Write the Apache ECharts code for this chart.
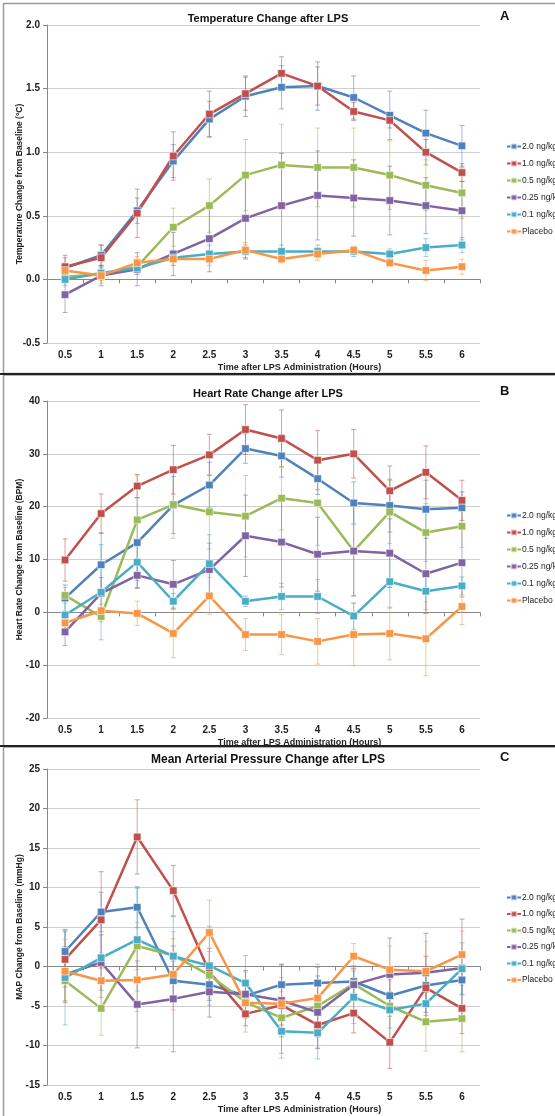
<!DOCTYPE html>
<html>
<head>
<meta charset="utf-8">
<script src="https://cdn.jsdelivr.net/npm/echarts@6/dist/echarts.min.js"></script>
<style>
html,body{margin:0;padding:0;background:#fff;}
#chart{width:555px;height:1116px;}
</style>
</head>
<body>
<div id="chart"></div>
<script>
const categories = ['0.5','1','1.5','2','2.5','3','3.5','4','4.5','5','5.5','6'];
const seriesNames = ['2.0 ng/kg','1.0 ng/kg','0.5 ng/kg','0.25 ng/kg','0.1 ng/kg','Placebo'];
const seriesColors = ['#4f81bd','#c0504d','#9bbb59','#8064a2','#4bacc6','#f79646'];

// Panel A: Temperature change (°C)
const temp20 = [0.09,0.19,0.54,0.93,1.26,1.44,1.51,1.52,1.43,1.29,1.15,1.05];
const temp20Err = [0.08,0.08,0.10,0.13,0.14,0.16,0.17,0.19,0.17,0.19,0.18,0.16];
const temp10 = [0.10,0.17,0.52,0.97,1.30,1.46,1.62,1.52,1.32,1.25,1.00,0.84];
const temp10Err = [0.09,0.10,0.19,0.19,0.18,0.13,0.13,0.15,0.07,0.06,0.10,0.07];
const temp05 = [0.02,0.04,0.10,0.41,0.58,0.82,0.90,0.88,0.88,0.82,0.74,0.68];
const temp05Err = [0.05,0.05,0.06,0.15,0.21,0.28,0.32,0.31,0.31,0.27,0.20,0.20];
const temp025 = [-0.12,0.03,0.08,0.20,0.32,0.48,0.58,0.66,0.64,0.62,0.58,0.54];
const temp025Err = [0.14,0.08,0.13,0.17,0.26,0.32,0.41,0.35,0.30,0.27,0.22,0.23];
const temp01 = [0.00,0.05,0.09,0.17,0.20,0.22,0.22,0.22,0.22,0.20,0.25,0.27];
const temp01Err = [0.05,0.05,0.05,0.06,0.07,0.05,0.05,0.05,0.04,0.04,0.07,0.06];
const tempPla = [0.07,0.03,0.13,0.16,0.16,0.23,0.16,0.20,0.23,0.13,0.07,0.10];
const tempPlaErr = [0.05,0.06,0.05,0.05,0.05,0.06,0.03,0.05,0.03,0.03,0.08,0.06];

// Panel B: Heart rate change (BPM)
const hr20 = [2.7,9.0,13.2,20.3,24.1,31.0,29.6,25.3,20.7,20.2,19.5,19.8];
const hr20Err = [2.5,6.0,8.5,5.4,4.3,2.8,4.0,3.0,4.0,5.0,5.5,3.0];
const hr10 = [9.9,18.7,23.9,27.0,29.8,34.6,32.9,28.8,30.0,23.0,26.5,21.2];
const hr10Err = [4.0,3.7,2.2,4.6,3.9,4.7,5.4,5.6,4.6,4.7,5.0,3.8];
const hr05 = [3.2,-0.8,17.5,20.4,19.0,18.2,21.6,20.7,11.6,19.0,15.1,16.3];
const hr05Err = [1.5,1.0,8.5,6.4,7.0,7.7,6.0,8.0,8.5,6.0,5.5,4.0];
const hr025 = [-3.7,3.6,7.0,5.3,8.1,14.5,13.3,11.0,11.6,11.2,7.3,9.4];
const hr025Err = [2.6,3.0,2.5,4.5,5.0,7.7,8.5,7.0,8.5,6.5,7.5,6.5];
const hr01 = [-0.5,3.8,9.5,2.1,9.2,2.1,3.0,3.0,-0.7,5.8,4.0,5.0];
const hr01Err = [3.0,9.0,3.5,1.5,5.5,1.0,2.5,3.2,2.5,5.0,3.5,1.7];
const hrPla = [-2.0,0.3,-0.2,-4.0,3.1,-4.2,-4.2,-5.5,-4.2,-4.0,-5.0,1.1];
const hrPlaErr = [1.0,1.3,2.3,4.6,3.5,3.0,3.8,4.3,5.9,5.0,7.0,3.4];

// Panel C: Mean arterial pressure change (mmHg)
const map20 = [1.9,6.9,7.5,-1.8,-2.3,-3.7,-2.3,-2.1,-1.9,-3.7,-2.4,-1.7];
const map20Err = [2.8,2.5,2.6,2.5,2.0,2.0,2.5,2.0,2.0,2.0,2.0,1.8];
const map10 = [0.9,5.9,16.4,9.6,-0.7,-6.0,-4.9,-7.4,-5.9,-9.6,-2.7,-5.3];
const map10Err = [3.5,6.1,4.7,3.2,3.0,1.5,2.5,1.5,2.5,3.3,4.0,3.2];
const map05 = [-1.8,-5.3,2.6,1.4,-1.1,-4.5,-6.5,-5.0,-2.2,-5.0,-7.0,-6.6];
const map05Err = [2.5,3.4,3.0,3.0,3.0,3.8,5.1,5.3,2.0,5.0,3.7,4.2];
const map025 = [-1.0,0.5,-4.8,-4.1,-3.2,-3.5,-4.3,-5.8,-2.3,-1.0,-0.8,-0.2];
const map025Err = [3.5,3.5,5.5,6.7,3.2,3.0,4.6,4.6,2.0,4.6,5.0,6.2];
const map01 = [-1.4,1.1,3.4,1.3,0.1,-2.1,-8.2,-8.4,-3.9,-5.5,-4.7,-0.3];
const map01Err = [6.0,5.0,6.5,5.0,5.0,3.5,2.8,3.3,3.3,2.3,1.5,3.3];
const mapPla = [-0.6,-1.8,-1.7,-1.0,4.3,-4.6,-4.7,-4.0,1.3,-0.4,-0.6,1.5];
const mapPlaErr = [4.0,3.5,4.0,4.5,4.1,1.5,1.5,1.5,1.6,3.0,3.8,3.0];

const panelTitles = ['Temperature Change after LPS','Heart Rate Change after LPS','Mean Arterial Pressure Change after LPS'];
const panelLetters = ['A','B','C'];
const yNames = ['Temperature Change from Baseline (°C)','Heart Rate Change from Baseline (BPM)','MAP Change from Baseline (mmHg)'];
const xName = 'Time after LPS Administration (Hours)';
const yMins = [-0.5,-20,-15];
const yMaxs = [2.0,40,25];
const yIntervals = [0.5,10,5];

const panelMeans = [
  [temp20,temp10,temp05,temp025,temp01,tempPla],
  [hr20,hr10,hr05,hr025,hr01,hrPla],
  [map20,map10,map05,map025,map01,mapPla]
];
const panelErrs = [
  [temp20Err,temp10Err,temp05Err,temp025Err,temp01Err,tempPlaErr],
  [hr20Err,hr10Err,hr05Err,hr025Err,hr01Err,hrPlaErr],
  [map20Err,map10Err,map05Err,map025Err,map01Err,mapPlaErr]
];

// layout
const gridTops = [25,401,769];
const gridHeights = [318,317,316];
const titleTops = [13,388,754];
const titleSizes = [11,11,12];
const legendTops = [137,506,888];
const legendGaps = [8,8,7.5];
const FONT = '"Liberation Sans", Arial, sans-serif';

function errItem(params, api) {
  const x = api.value(0);
  const lo = api.coord([x, api.value(1)]);
  const hi = api.coord([x, api.value(2)]);
  const c = 2.5;
  const st = api.style({stroke: api.visual('color'), lineWidth: 1, fill: null});
  return {
    type: 'group',
    children: [
      {type:'line', shape:{x1:lo[0],y1:lo[1],x2:hi[0],y2:hi[1]}, style:st},
      {type:'line', shape:{x1:hi[0]-c,y1:hi[1],x2:hi[0]+c,y2:hi[1]}, style:st},
      {type:'line', shape:{x1:lo[0]-c,y1:lo[1],x2:lo[0]+c,y2:lo[1]}, style:st}
    ]
  };
}

const grids = [], xAxes = [], yAxes = [], series = [], legends = [], titles = [];
for (let p = 0; p < 3; p++) {
  grids.push({left:47, right:75, top:gridTops[p], height:gridHeights[p]});
  xAxes.push({
    type:'category', gridIndex:p, data:categories, boundaryGap:true,
    axisLine:{lineStyle:{color:'#888', width:1}},
    axisTick:{show:true, length:4, lineStyle:{color:'#888'}},
    axisLabel:{color:'#222', fontWeight:'bold', fontSize:10, margin:7, fontFamily:FONT},
    name:xName, nameLocation:'middle', nameGap:20, nameMoveOverlap:false,
    nameTextStyle:{color:'#222', fontWeight:'bold', fontSize:9, fontFamily:FONT, padding:[0,0,0,72]}
  });
  yAxes.push({
    type:'value', gridIndex:p, min:yMins[p], max:yMaxs[p], interval:yIntervals[p],
    axisLine:{show:true, lineStyle:{color:'#888', width:1}},
    axisTick:{show:true, length:4, lineStyle:{color:'#888'}},
    splitLine:{lineStyle:{color:'#cfcfcf', width:1}},
    axisLabel:{color:'#222', fontWeight:'bold', fontSize:10, margin:7, fontFamily:FONT,
      formatter: p === 0 ? (v => v.toFixed(1)) : (v => String(v))},
    name:yNames[p], nameLocation:'middle', nameGap:23, nameMoveOverlap:false,
    nameTextStyle:{color:'#222', fontWeight:'bold', fontSize:8.5, fontFamily:FONT}
  });
  for (let s = 0; s < 6; s++) {
    const means = panelMeans[p][s], errs = panelErrs[p][s];
    series.push({
      type:'custom', name:'err'+p+'_'+s, xAxisIndex:p, yAxisIndex:p,
      renderItem:errItem, z:1, silent:true,
      itemStyle:{color:seriesColors[s], opacity:0.55},
      encode:{x:0, y:[1,2]},
      data: means.map((m,i) => [i, m - errs[i], m + errs[i]])
    });
  }
  for (let s = 0; s < 6; s++) {
    series.push({
      type:'line', name:seriesNames[s], xAxisIndex:p, yAxisIndex:p,
      data:panelMeans[p][s], symbol:'rect', symbolSize:7.5, z:3,
      lineStyle:{color:seriesColors[s], width:2.5},
      itemStyle:{color:seriesColors[s], borderColor:'rgba(255,255,255,0.55)', borderWidth:1},
      animation:false
    });
  }
  legends.push({
    orient:'vertical', left:501, top:legendTops[p], itemWidth:14, itemHeight:7, itemGap:legendGaps[p],
    data:seriesNames, selectedMode:false,
    textStyle:{color:'#222', fontSize:8.5, fontFamily:FONT, padding:[0,0,0,-4]}
  });
  titles.push({
    text:panelTitles[p], left:268, top:titleTops[p], textAlign:'center', padding:0,
    textStyle:{color:'#111', fontWeight:'bold', fontSize:titleSizes[p], fontFamily:FONT}
  });
  titles.push({
    text:panelLetters[p], left:500, top:titleTops[p]-3, padding:0,
    textStyle:{color:'#111', fontWeight:'bold', fontSize:13, fontFamily:FONT}
  });
}

const chart = echarts.init(document.getElementById('chart'));
chart.setOption({
  backgroundColor:'#fff',
  animation:false,
  title:titles,
  legend:legends,
  grid:grids,
  xAxis:xAxes,
  yAxis:yAxes,
  series:series,
  graphic:[
    {type:'rect', shape:{x:3.5,y:3.5,width:570,height:370}, style:{fill:'none', stroke:'#9a9a9a', lineWidth:1.5}, z:-1},
    {type:'rect', shape:{x:3.5,y:375,width:570,height:371}, style:{fill:'none', stroke:'#9a9a9a', lineWidth:1.5}, z:-1},
    {type:'rect', shape:{x:3.5,y:747,width:570,height:380}, style:{fill:'none', stroke:'#9a9a9a', lineWidth:1.5}, z:-1},
    {type:'line', shape:{x1:0,y1:374,x2:555,y2:374}, style:{stroke:'#222', lineWidth:2}},
    {type:'line', shape:{x1:0,y1:746,x2:555,y2:746}, style:{stroke:'#222', lineWidth:2}}
  ]
});
</script>
</body>
</html>
